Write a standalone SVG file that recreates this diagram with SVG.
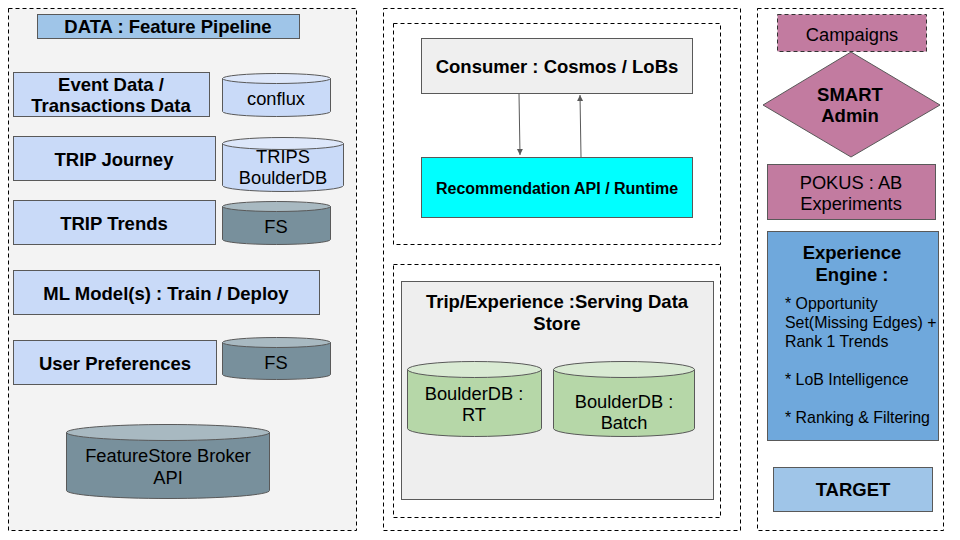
<svg xmlns="http://www.w3.org/2000/svg" width="960" height="540" viewBox="0 0 960 540">
<defs>
<style>
text{font-family:"Liberation Sans",Arial,sans-serif;fill:#000;text-anchor:middle}
.b{font-weight:bold;font-size:18.5px}
.r{font-size:18.3px}
.panel{stroke:#000;stroke-width:1;stroke-dasharray:4,3}
.box{stroke:#595959;stroke-width:1}
.lb{fill:#c9daf8}
.cl{fill:#c9daf8;stroke:#595959}
.clt{fill:#dde7fa;stroke:#595959}
.cd{fill:#78909c;stroke:#595959}
.cdt{fill:#a8b9c1;stroke:#595959}
.cg{fill:#b6d7a8;stroke:#595959}
.cgt{fill:#d9ead3;stroke:#595959}
.conn{stroke:#595959;stroke-width:1;fill:none}
.bl{font-size:15.9px;text-anchor:start}
</style>
<marker id="ah" markerWidth="8" markerHeight="8" refX="6" refY="3" orient="auto" markerUnits="userSpaceOnUse"><path d="M0,0 L6,3 L0,6 Z" fill="#595959"/></marker>
</defs>
<rect width="960" height="540" fill="#fff"/>

<g id="panel-data">
<rect class="panel" x="8.5" y="8.5" width="348" height="522" fill="#f3f3f3"/>
</g>
<g id="panel-mid">
<rect class="panel" x="383.5" y="8.5" width="357" height="522" fill="#fff"/>
<rect class="panel" x="393.5" y="23.5" width="327" height="221" fill="#fff"/>
<rect class="panel" x="393.5" y="264.5" width="327" height="253" fill="#fff"/>
</g>
<g id="panel-right">
<rect class="panel" x="757.5" y="8.5" width="186" height="522" fill="#fff"/>
</g>

<g id="data-title">
<rect class="box" x="37.5" y="14.5" width="262" height="24" fill="#9fc5e8"/>
<text class="b" x="168" y="33">DATA : Feature Pipeline</text>
</g>
<g id="event-data">
<rect class="box lb" x="13.5" y="72.5" width="196" height="44"/>
<text class="b" x="111" y="91">Event Data /</text>
<text class="b" x="111" y="112">Transactions Data</text>
</g>
<g id="conflux">
<path class="cl" d="M222.5,78.5 L222.5,111.5 A54,5 0 0 0 330.5,111.5 L330.5,78.5 Z"/>
<ellipse class="clt" cx="276.5" cy="78.5" rx="54" ry="5"/>
<text class="r" x="276" y="105">conflux</text>
</g>
<g id="trip-journey">
<rect class="box lb" x="13.5" y="136.5" width="202" height="44"/>
<text class="b" x="114" y="166">TRIP Journey</text>
</g>
<g id="trips-boulderdb">
<path class="cl" d="M222.5,143.5 L222.5,185.5 A60.5,6 0 0 0 343.5,185.5 L343.5,143.5 Z"/>
<ellipse class="clt" cx="283" cy="143.5" rx="60.5" ry="6"/>
<text class="r" x="283" y="163">TRIPS</text>
<text class="r" x="283" y="184">BoulderDB</text>
</g>
<g id="trip-trends">
<rect class="box lb" x="13.5" y="200.5" width="202" height="44"/>
<text class="b" x="114" y="230">TRIP Trends</text>
</g>
<g id="fs-1">
<path class="cd" d="M222.5,206.5 L222.5,239.5 A54,5 0 0 0 330.5,239.5 L330.5,206.5 Z"/>
<ellipse class="cdt" cx="276.5" cy="206.5" rx="54" ry="5"/>
<text class="r" x="276" y="233">FS</text>
</g>
<g id="ml-model">
<rect class="box lb" x="13.5" y="270.5" width="306" height="44"/>
<text class="b" x="166" y="300">ML Model(s) : Train / Deploy</text>
</g>
<g id="user-preferences">
<rect class="box lb" x="13.5" y="340.5" width="203" height="44"/>
<text class="b" x="115" y="370">User Preferences</text>
</g>
<g id="fs-2">
<path class="cd" d="M222.5,342.5 L222.5,374.5 A54,5 0 0 0 330.5,374.5 L330.5,342.5 Z"/>
<ellipse class="cdt" cx="276.5" cy="342.5" rx="54" ry="5"/>
<text class="r" x="276" y="369">FS</text>
</g>
<g id="featurestore-broker">
<path class="cd" d="M66.5,432.5 L66.5,490.5 A101.5,8 0 0 0 269.5,490.5 L269.5,432.5 Z"/>
<ellipse class="cdt" cx="168" cy="432.5" rx="101.5" ry="8"/>
<text class="r" x="168" y="462">FeatureStore Broker</text>
<text class="r" x="168" y="484">API</text>
</g>

<g id="consumer">
<rect class="box" x="421.5" y="38.5" width="271" height="55" fill="#efefef"/>
<text class="b" x="557" y="73">Consumer : Cosmos / LoBs</text>
</g>
<g id="recommendation-api">
<rect class="box" x="421.5" y="157.5" width="271" height="60" fill="#00ffff"/>
<text x="557" y="194" style="font-weight:bold;font-size:16px">Recommendation API / Runtime</text>
</g>
<g id="serving-store">
<rect class="box" x="401.5" y="281.5" width="312" height="218" fill="#eeeeee"/>
<text class="b" x="557" y="308">Trip/Experience :Serving Data</text>
<text class="b" x="557" y="330">Store</text>
</g>
<g id="boulderdb-rt">
<path class="cg" d="M407.5,369.5 L407.5,428.5 A67,8 0 0 0 541.5,428.5 L541.5,369.5 Z"/>
<ellipse class="cgt" cx="474.5" cy="369.5" rx="67" ry="8"/>
<text class="r" x="474" y="400">BoulderDB :</text>
<text class="r" x="474" y="421">RT</text>
</g>
<g id="boulderdb-batch">
<path class="cg" d="M553.5,369.5 L553.5,428.5 A70.5,8 0 0 0 694.5,428.5 L694.5,369.5 Z"/>
<ellipse class="cgt" cx="624" cy="369.5" rx="70.5" ry="8"/>
<text class="r" x="624" y="408">BoulderDB :</text>
<text class="r" x="624" y="429">Batch</text>
</g>

<g id="campaigns">
<rect x="777.5" y="14.5" width="149" height="37" fill="#c27ba0" stroke="#333" stroke-dasharray="4,3"/>
<text class="r" x="852" y="41">Campaigns</text>
</g>
<g id="smart-admin">
<polygon class="box" points="851,52 940,105 851,157 763,105" fill="#c27ba0"/>
<text class="b" x="850" y="101">SMART</text>
<text class="b" x="850" y="122">Admin</text>
</g>
<g id="pokus">
<rect class="box" x="767.5" y="164.5" width="168" height="55" fill="#c27ba0"/>
<text class="r" x="851" y="189">POKUS : AB</text>
<text class="r" x="851" y="210">Experiments</text>
</g>
<g id="experience-engine">
<rect class="box" x="767.5" y="231.5" width="171" height="209" fill="#6fa8dc"/>
<text class="b" x="852" y="259">Experience</text>
<text class="b" x="852" y="281">Engine :</text>
<text class="bl" x="785" y="309">* Opportunity</text>
<text class="bl" x="785" y="328">Set(Missing Edges) +</text>
<text class="bl" x="785" y="347">Rank 1 Trends</text>
<text class="bl" x="785" y="385">* LoB Intelligence</text>
<text class="bl" x="785" y="423">* Ranking &amp; Filtering</text>
</g>
<g id="target">
<rect class="box" x="773.5" y="467.5" width="159" height="44" fill="#9fc5e8"/>
<text class="b" x="853" y="496">TARGET</text>
</g>

<g id="connectors">
<line class="conn" x1="519" y1="94" x2="520" y2="155" marker-end="url(#ah)"/>
<line class="conn" x1="581" y1="157" x2="580" y2="95" marker-end="url(#ah)"/>
</g>
</svg>
